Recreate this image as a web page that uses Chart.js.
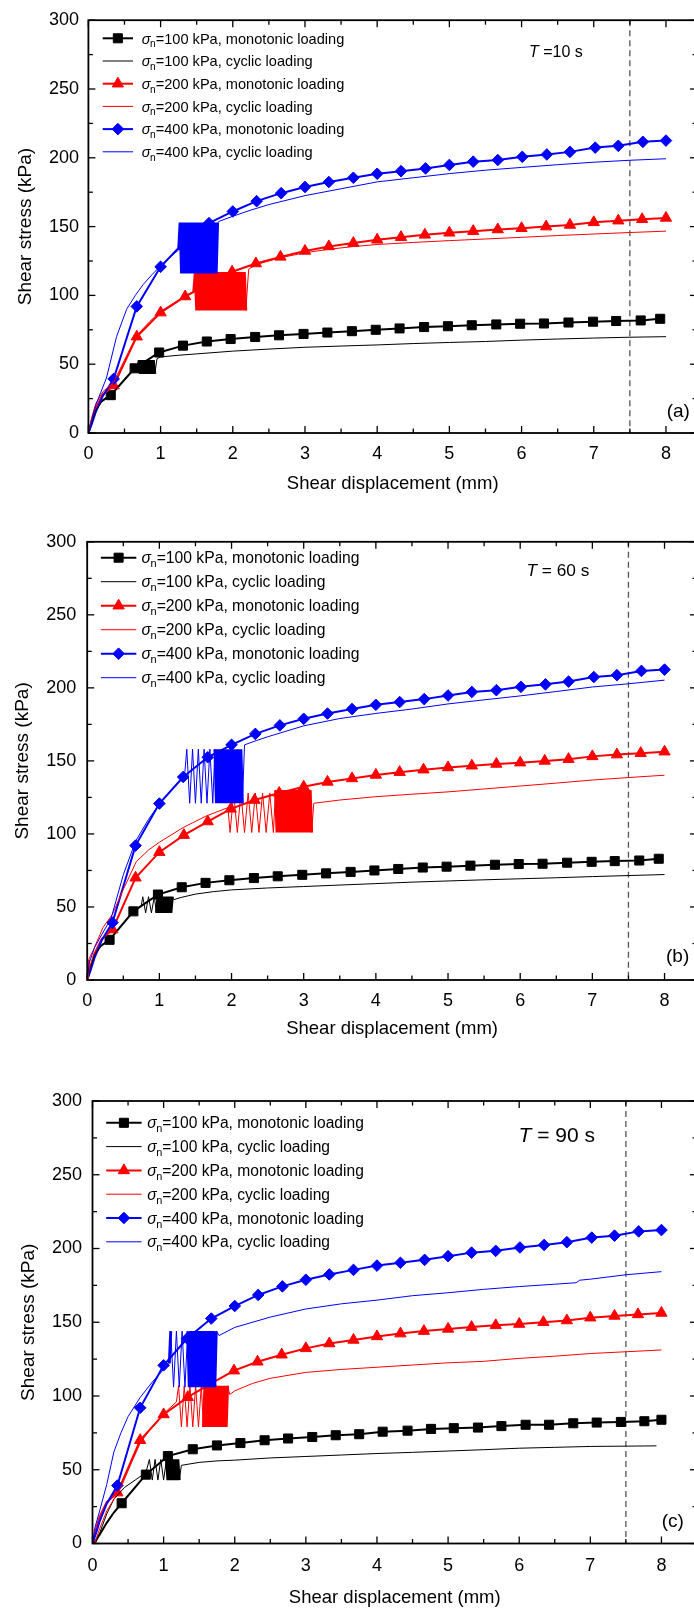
<!DOCTYPE html>
<html>
<head>
<meta charset="utf-8">
<script src="https://cdn.jsdelivr.net/npm/chart.js@4.4.1/dist/chart.umd.min.js"></script>
<style>
  html, body { margin: 0; padding: 0; background: #fff; overflow: hidden; width: 694px; height: 1613px; }
  canvas { position: absolute; left: 0; }
</style>
</head>
<body>
<canvas id="ca" width="700" height="505" style="top:0px;width:700px;height:505px"></canvas>
<canvas id="cb" width="700" height="530" style="top:520px;width:700px;height:530px"></canvas>
<canvas id="cc" width="700" height="553" style="top:1060px;width:700px;height:553px"></canvas>
<script>
// ---- data (shear displacement in mm, shear stress in kPa) ----

// monotonic tests, first 4 points of each carry no marker
var monoX100 = [0,0.05,0.1,0.18, 0.31,0.64,0.98,1.31,1.64,1.97,2.31,2.64,2.98,3.31,3.65,3.98,4.31,4.65,4.98,5.31,5.65,5.98,6.31,6.65,6.99,7.31,7.65,7.92];
var monoY100 = [0,9,17,23, 27.5,47,58.5,63.5,66.5,68.3,69.8,71,72,73,74,75,76,77,77.6,78.3,78.9,79.4,79.6,80.3,80.9,81.4,81.8,83];
// panel (c) plots the 100 kPa monotonic curve with shifted markers
var monoX100c = [0.02,0.1,0.2,0.3, 0.41,0.75,1.06,1.41,1.75,2.08,2.42,2.75,3.09,3.42,3.75,4.08,4.43,4.76,5.08,5.42,5.75,6.09,6.42,6.76,7.09,7.43,7.76,8.0];
var monoY100c = [0,6,14,21, 27.3,46.7,59.3,63.9,66.5,68.1,70,71.2,72.2,73.4,74.1,75.8,76.5,77.7,78.2,78.6,79.6,80.5,80.5,81.5,82,82.4,82.9,83.9];
var monoX200 = [0,0.05,0.1,0.2, 0.35,0.67,1.0,1.34,1.67,1.99,2.32,2.66,3.0,3.33,3.67,4.0,4.33,4.66,5.0,5.33,5.67,6.0,6.34,6.67,7.0,7.34,7.67,8.0];
var monoY200 = [0,10,18,28, 34.5,70,87.5,99.2,108.5,117.2,123.2,128,132.3,135.6,138,140.4,142.3,144,145.5,146.7,147.9,148.8,150,151.2,153.1,154.3,155.3,156.3];
var monoX400 = [0,0.05,0.1,0.2, 0.35,0.67,1.0,1.33,1.67,2.0,2.33,2.67,3.0,3.33,3.67,4.0,4.33,4.67,5.0,5.33,5.67,6.01,6.35,6.67,7.02,7.34,7.68,8.0];
var monoY400 = [0,7,15,27, 39.3,92,120.8,139,152.5,161,168.5,174.3,178.8,182.4,185.5,188.4,190.3,192.3,194.8,197.2,198.4,200.7,202.4,204.3,207.4,208.7,211.6,212.5];
var LEAD = 4;

// cyclic tests, T = 10 s
var cycA100x = [0,0.05,0.1,0.2,0.33,0.5,0.66,
  0.70,0.72,0.74,0.76,0.78,0.80,0.82,0.84,0.86,0.88,0.90,0.92,
  0.95,1.0,1.25,1.5,2,2.5,3,3.5,4,4.5,5,5.5,6,6.5,7,7.5,8];
var cycA100y = [0,8,16,24,29,39,48,
  53,43,53,43,53,43,53,43,53,43,53,43,
  54,55.3,56.5,57.5,59.5,61,62.3,63.2,64,65,65.8,66.5,67.5,68.3,69,69.6,70];
var cycA200x = [0,0.05,0.1,0.2,0.35,0.5,0.67,0.85,1.0,1.2,1.33,1.46,
  1.48,1.50,1.52,1.54,1.56,1.58,1.60,1.62,1.64,1.66,1.68,1.70,1.72,1.74,1.76,1.78,1.80,1.82,
  1.84,1.86,1.88,1.90,1.92,1.94,1.96,1.98,2.00,2.02,2.04,2.06,2.08,2.10,2.12,2.14,2.16,2.18,
  2.22,2.33,2.67,3,3.33,3.67,4,4.5,5,5.5,6,6.5,7,7.5,8];
var cycA200y = [0,12,21,30,37,53,71,81,88.5,95,99.5,103,
  117,89,117,89,117,89,117,89,117,89,117,89,117,89,117,89,117,89,
  117,89,117,89,117,89,117,89,117,89,117,89,117,89,117,89,117,89,
  119,122.5,127.5,131,133.5,135.5,137,138.5,139.8,141,142.2,143.5,144.6,145.7,146.7];
var cycA400x = [0,0.05,0.1,0.25,0.39,0.53,0.65,0.76,0.88,0.99,1.12,1.25,
  1.27,1.29,1.31,1.33,1.35,1.37,1.39,1.41,1.43,1.45,1.47,1.49,1.51,1.53,1.55,1.57,1.59,1.61,1.63,1.65,1.67,1.69,1.71,1.73,1.75,1.77,1.79,
  1.82,2.0,2.25,2.5,3,3.5,4,4.5,5,5.5,6,6.5,7,7.5,8];
var cycA400y = [0,10,20,40,70,90,100,108,115,121,127.5,133,
  153,116,153,116,153,116,153,116,153,116,153,116,153,116,153,116,153,116,153,116,153,116,153,116,153,116,153,
  154,157.5,162,166,172.5,177.5,182.5,185.5,188.5,191,193,195,196.8,198.2,199.3];

// cyclic tests, T = 60 s
var cycB100x = [0,0.05,0.1,0.2,0.31,0.5,0.64,0.75,
  0.77,0.81,0.85,0.89,0.93,0.96,0.98,1.00,1.02,1.04,1.06,1.08,1.10,1.12,1.14,1.16,1.18,
  1.2,1.3,1.5,1.75,2,2.5,3,3.5,4,4.5,5,5.5,6,6.5,7,7.5,8];
var cycB100y = [0,9,17,24,28,39,47,51,
  57,46,57,46,57,46,57,46,57,46,57,46,57,46,57,46,57,
  55,56.5,58.8,60.5,61.7,63,64,65,66,67,67.8,68.6,69.3,70,70.8,71.5,72.2];
var cycB200x = [0,0.02,0.08,0.22,0.35,0.5,0.68,0.85,1.0,1.33,1.65,1.95,
  1.98,2.03,2.08,2.13,2.18,2.23,2.28,2.33,2.38,2.43,2.48,2.53,2.58,
  2.61,2.63,2.65,2.67,2.69,2.71,2.73,2.75,2.77,2.79,2.81,2.83,2.85,2.87,2.89,2.91,2.93,2.95,2.97,2.99,3.01,3.03,3.05,3.07,3.09,3.11,
  3.14,3.5,4,4.5,5,5.5,6,6.5,7,7.5,8];
var cycB200y = [0,14,20,36,45,62,81,89,94.3,104.4,112.3,118,
  101,128,101,128,101,128,101,128,101,128,101,128,101,
  130,101,130,101,130,101,130,101,130,101,130,101,130,101,130,101,130,101,130,101,130,101,130,101,130,101,
  121,123.2,125.5,127.2,128.8,130.8,132.8,134.8,136.9,138.6,140.2];
var cycB400x = [0,0.03,0.1,0.2,0.33,0.5,0.67,0.85,1.0,1.2,1.35,
  1.38,1.42,1.46,1.50,1.54,1.58,1.62,1.66,1.70,1.74,
  1.77,1.79,1.81,1.83,1.85,1.87,1.89,1.91,1.93,1.95,1.97,1.99,2.01,2.03,2.05,2.07,2.09,2.11,2.13,2.15,
  2.18,2.35,2.5,3,3.5,4,4.5,5,5.5,6,6.5,7,7.5,8];
var cycB400y = [0,12,22,31,42,72,95,110,120.5,132,140,
  158,121,158,121,158,121,158,121,158,121,
  158,121,158,121,158,121,158,121,158,121,158,121,158,121,158,121,158,121,158,121,
  161,164,166.5,174,179,182.5,185.5,189,191.8,194.5,197.5,200.6,202.8,205.3];

// cyclic tests, T = 90 s
var cycC100x = [0.04,0.1,0.2,0.3,0.45,0.6,0.75,
  0.80,0.84,0.88,0.92,0.96,1.00,1.04,
  1.06,1.08,1.10,1.12,1.14,1.16,1.18,1.20,1.22,
  1.25,1.5,1.75,2,2.5,3,3.5,4,4.5,5,5.5,6,6.5,7,7.5,7.93];
var cycC100y = [0,7,20,30,38,43,48,
  57,43,57,43,57,43,57,
  43,57,43,57,43,57,43,57,43,
  53,55,56,56.5,58,59,60,61,61.8,62.7,63.6,64.6,65.2,65.8,66,66.2];
var cycC200x = [0.03,0.1,0.2,0.3,0.4,0.55,0.67,0.85,1.0,1.18,
  1.21,1.25,1.29,1.33,1.37,1.41,1.45,1.49,1.53,
  1.56,1.58,1.60,1.62,1.64,1.66,1.68,1.70,1.72,1.74,1.76,1.78,1.80,1.82,1.84,1.86,1.88,1.90,
  1.93,2,2.25,2.5,3,3.5,4,4.5,5,5.5,6,6.5,7,7.5,8];
var cycC200y = [0,10,22,30,38,55,68,80,88,96,
  107,79,107,79,107,79,107,79,107,
  79,107,79,107,79,107,79,107,79,107,79,107,79,107,79,107,79,107,
  101,103.5,108.5,112,116,118,119.5,121,122.5,123.5,125.5,127,128.8,130,131.2];
var cycC400x = [0,0.03,0.1,0.2,0.3,0.4,0.5,0.67,0.85,1.0,1.08,
  1.10,1.14,1.18,1.22,1.26,1.30,1.34,
  1.36,1.38,1.40,1.42,1.44,1.46,1.48,1.50,1.52,1.54,1.56,1.58,1.60,1.62,1.64,1.66,1.68,1.70,1.72,1.74,
  1.78,2,2.5,3,3.5,4,4.5,5,5.5,6,6.5,6.8,6.85,7,7.5,8];
var cycC400y = [0,10,22,40,62,75,86,99,110,118,122,
  144,106,144,106,144,106,144,
  106,144,106,144,106,144,106,144,106,144,106,144,106,144,106,144,106,144,106,144,
  141,146.5,153.5,159,162.5,165,168,170,172.3,174.2,175.8,176.8,178.5,179.2,182.2,184.3];

var xTicks = [0, 1, 2, 3, 4, 5, 6, 7, 8];
var yTicks = [0, 50, 100, 150, 200, 250, 300];
var stressLevels = ['100', '200', '400'];
var legendLabels = ['=100 kPa, monotonic loading', '=100 kPa, cyclic loading',
                    '=200 kPa, monotonic loading', '=200 kPa, cyclic loading',
                    '=400 kPa, monotonic loading', '=400 kPa, cyclic loading'];
var periodText = [' =10 s', ' = 60 s', ' = 90 s'];
var panelLetters = ['(a)', '(b)', '(c)'];
var xTitle = 'Shear displacement (mm)';
var yTitle = 'Shear stress (kPa)';

var colors = ['#000000', '#ff0000', '#0000ff'];
var markers = ['rect', 'triangle', 'rectRot'];
var markerR = [6.4, 6.5, 5.8];

var FONT = '"Liberation Sans", Arial, Helvetica, sans-serif';
Chart.defaults.font.family = FONT;
Chart.defaults.color = '#000';

function pts(xs, ys) {
  return xs.map(function (x, i) { return {x: x, y: ys[i]}; });
}

function monoSet(xs, ys, k) {
  return {
    label: stressLevels[k] + ' monotonic',
    data: pts(xs, ys), showLine: true,
    borderColor: colors[k], backgroundColor: colors[k], borderWidth: 2,
    pointStyle: markers[k], pointBorderWidth: 1, pointBorderColor: colors[k],
    pointRadius: function (c) { return c.dataIndex < LEAD ? 0 : markerR[k]; },
    order: 5 - k
  };
}
function cycSet(xs, ys, k) {
  return {
    label: stressLevels[k] + ' cyclic',
    data: pts(xs, ys), showLine: true,
    borderColor: colors[k], borderWidth: 1, pointRadius: 0, borderJoinStyle: 'bevel',
    // the densely packed load cycles read as a solid band in the figure
    segment: {
      borderWidth: function (c) {
        var dx = Math.abs(c.p1.parsed.x - c.p0.parsed.x), dy = Math.abs(c.p1.parsed.y - c.p0.parsed.y);
        return (dx < 0.025 && dy > 8) ? 2.9 : undefined;
      }
    },
    order: 2 - k
  };
}

function drawMarker(ctx, k, x, y) {
  var r = markerR[k];
  ctx.beginPath();
  if (k === 0) {
    var s = r * Math.SQRT1_2;
    ctx.rect(x - s, y - s, 2 * s, 2 * s);
  } else if (k === 1) {
    ctx.moveTo(x, y - r);
    ctx.lineTo(x + r * 0.866, y + r / 2);
    ctx.lineTo(x - r * 0.866, y + r / 2);
    ctx.closePath();
  } else {
    ctx.moveTo(x - r, y); ctx.lineTo(x, y - r); ctx.lineTo(x + r, y); ctx.lineTo(x, y + r);
    ctx.closePath();
  }
  ctx.fillStyle = colors[k];
  ctx.fill();
  ctx.lineWidth = 1; ctx.strokeStyle = colors[k];
  ctx.stroke();
}

function line(ctx, x1, y1, x2, y2) {
  ctx.beginPath(); ctx.moveTo(x1, y1); ctx.lineTo(x2, y2); ctx.stroke();
}

function makeDeco(p, n) {
  return {
    id: 'deco' + n,
    beforeDatasetsDraw: function (chart) {
      var ctx = chart.ctx, a = chart.chartArea, xs = chart.scales.x;
      var px = xs.getPixelForValue(7.5);
      ctx.save();
      ctx.strokeStyle = '#555'; ctx.lineWidth = 1.3; ctx.setLineDash([6, 4]);
      line(ctx, px, a.top, px, a.bottom);
      ctx.restore();
    },
    afterDatasetsDraw: function (chart) {
      var ctx = chart.ctx, a = chart.chartArea, xs = chart.scales.x, ys = chart.scales.y;
      ctx.save();
      // frame and inward ticks on all four sides
      ctx.strokeStyle = '#000'; ctx.lineWidth = 1.8;
      ctx.strokeRect(a.left, a.top, a.right - a.left, a.bottom - a.top);
      ctx.lineWidth = 1.3;
      for (var i = 0; i * 0.5 <= xs.max; i++) {
        var tx = xs.getPixelForValue(i * 0.5), len = (i % 2 === 0) ? 7 : 4.5;
        line(ctx, tx, a.bottom, tx, a.bottom - len);
        line(ctx, tx, a.top, tx, a.top + len);
      }
      for (var j = 0; j * 25 <= 300; j++) {
        var ty = ys.getPixelForValue(j * 25), l2 = (j % 2 === 0) ? 7 : 4.5;
        line(ctx, a.left, ty, a.left + l2, ty);
        line(ctx, a.right, ty, a.right - l2, ty);
      }
      // legend
      var fs = p.legFs;
      for (var r = 0; r < 6; r++) {
        var k = Math.floor(r / 2), mono = (r % 2 === 0);
        var ry = p.legY + r * p.legDy;
        ctx.strokeStyle = colors[k]; ctx.lineWidth = mono ? 2 : 1;
        line(ctx, p.legX[0], ry, p.legX[1], ry);
        if (mono) drawMarker(ctx, k, (p.legX[0] + p.legX[1]) / 2, ry);
        ctx.fillStyle = '#000'; ctx.textBaseline = 'alphabetic'; ctx.textAlign = 'left';
        var base = ry + fs * 0.36;
        ctx.font = 'italic ' + fs + 'px ' + FONT;
        ctx.fillText('\u03c3', p.legTx, base);
        var w1 = ctx.measureText('\u03c3').width;
        ctx.font = (fs * 0.7).toFixed(1) + 'px ' + FONT;
        ctx.fillText('n', p.legTx + w1 - 0.5, base + fs * 0.25);
        var w2 = ctx.measureText('n').width;
        ctx.font = fs + 'px ' + FONT;
        ctx.fillText(legendLabels[r], p.legTx + w1 + w2 - 0.5, base);
      }
      // loading period
      ctx.textBaseline = 'middle';
      ctx.font = 'italic ' + p.tFs + 'px ' + FONT;
      ctx.fillText('T', p.tX, p.tY);
      var wt = ctx.measureText('T').width;
      ctx.font = p.tFs + 'px ' + FONT;
      ctx.fillText(periodText[n], p.tX + wt, p.tY);
      // panel letter
      ctx.font = '19px ' + FONT;
      ctx.fillText(panelLetters[n], p.letterX, p.letterY);
      ctx.restore();
    }
  };
}

function makeChart(p, n, sets) {
  new Chart(document.getElementById(p.id), {
    type: 'scatter',
    data: {datasets: sets},
    options: {
      responsive: false, animation: false, devicePixelRatio: 1, events: [],
      layout: {autoPadding: false, padding: {top: p.padTop, right: 3, left: 0, bottom: p.h - p.plotBottom - p.xh}},
      plugins: {legend: {display: false}, tooltip: {enabled: false}},
      scales: {
        x: {
          type: 'linear', min: 0, max: p.xmax,
          afterFit: function (s) { s.height = p.xh; },
          afterBuildTicks: function (s) { s.ticks = xTicks.map(function (v) { return {value: v}; }); },
          grid: {display: false, drawTicks: false}, border: {display: false},
          ticks: {padding: p.xtp, color: '#000', font: {size: 18}},
          title: {display: true, text: xTitle, color: '#000', font: {size: 18.5}, padding: 0}
        },
        y: {
          type: 'linear', min: 0, max: 300,
          afterFit: function (s) { s.width = p.x0; },
          afterBuildTicks: function (s) { s.ticks = yTicks.map(function (v) { return {value: v}; }); },
          grid: {display: false, drawTicks: false}, border: {display: false},
          ticks: {padding: p.ytp, color: '#000', font: {size: 18}},
          title: {display: true, text: yTitle, color: '#000', font: {size: 19}, padding: {top: p.ytitlePad, bottom: 0}}
        }
      }
    },
    plugins: [makeDeco(p, n)]
  });
}

// layout of the three stacked panels (pixels)
var panelA = {id: 'ca', h: 505, padTop: 17.5, plotBottom: 433, x0: 88.4, xmax: 8.43, xh: 62.1, xtp: 10.5, ytp: 9.4, ytitlePad: 14.6,
  legX: [102.7, 133], legTx: 141.7, legY: 38.3, legDy: 22.7, legFs: 14.6, tX: 529, tY: 52.7, tFs: 16, letterX: 666.7, letterY: 411.7};
var panelB = {id: 'cb', h: 530, padTop: 15, plotBottom: 460, x0: 87.2, xmax: 8.45, xh: 60.1, xtp: 10.5, ytp: 11, ytitlePad: 11.6,
  legX: [100.9, 136.3], legTx: 141.6, legY: 37.7, legDy: 24, legFs: 15.7, tX: 526.5, tY: 51, tFs: 17.3, letterX: 666, letterY: 436.7};
var panelC = {id: 'cc', h: 553, padTop: 41, plotBottom: 483.5, x0: 92.5, xmax: 8.5, xh: 65.6, xtp: 12, ytp: 10.5, ytitlePad: 17.6,
  legX: [106.2, 141.6], legTx: 147.3, legY: 62.8, legDy: 23.8, legFs: 15.6, tX: 518.6, tY: 75.8, tFs: 21, letterX: 661.7, letterY: 461.7};

makeChart(panelA, 0, [
  monoSet(monoX100, monoY100, 0), cycSet(cycA100x, cycA100y, 0),
  monoSet(monoX200, monoY200, 1), cycSet(cycA200x, cycA200y, 1),
  monoSet(monoX400, monoY400, 2), cycSet(cycA400x, cycA400y, 2)
]);
makeChart(panelB, 1, [
  monoSet(monoX100, monoY100, 0), cycSet(cycB100x, cycB100y, 0),
  monoSet(monoX200, monoY200, 1), cycSet(cycB200x, cycB200y, 1),
  monoSet(monoX400, monoY400, 2), cycSet(cycB400x, cycB400y, 2)
]);
makeChart(panelC, 2, [
  monoSet(monoX100c, monoY100c, 0), cycSet(cycC100x, cycC100y, 0),
  monoSet(monoX200, monoY200, 1), cycSet(cycC200x, cycC200y, 1),
  monoSet(monoX400, monoY400, 2), cycSet(cycC400x, cycC400y, 2)
]);
</script>
</body>
</html>
